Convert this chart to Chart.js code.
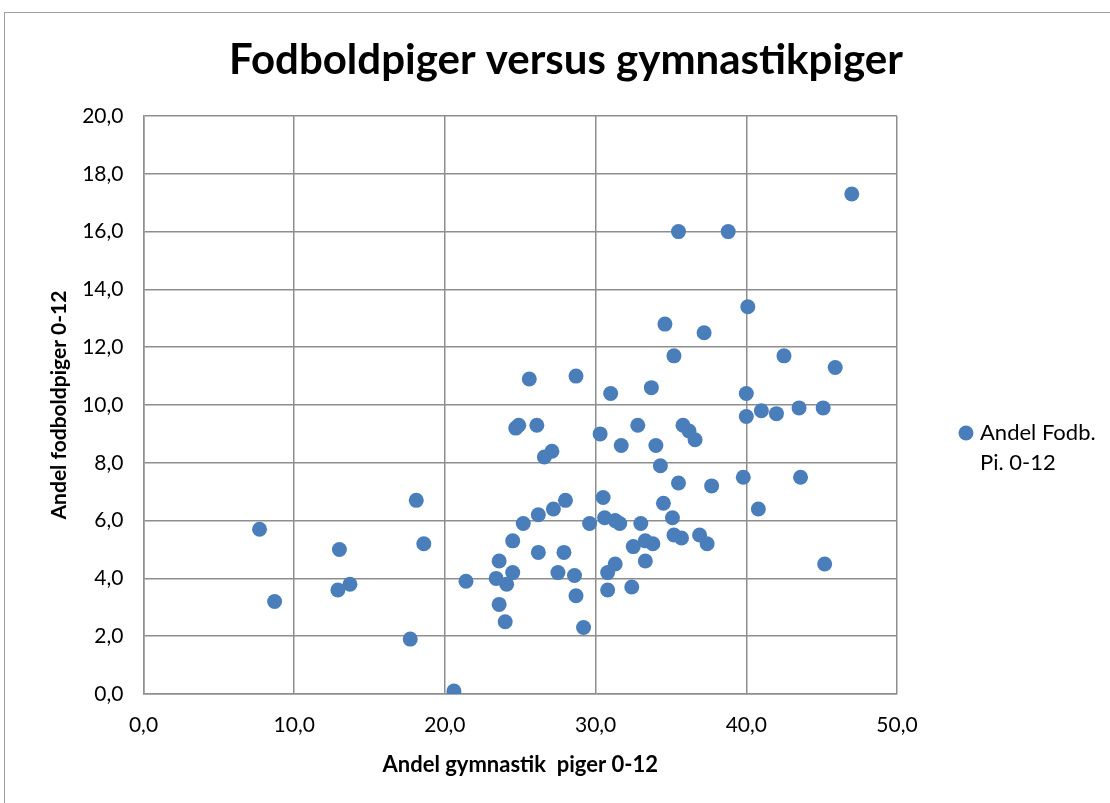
<!DOCTYPE html>
<html>
<head>
<meta charset="utf-8">
<script src="https://cdn.jsdelivr.net/npm/chart.js@4.4.1/dist/chart.umd.min.js"></script>
<style>
  html, body { margin: 0; padding: 0; background: #fff; }
  #wrap { position: relative; width: 1110px; height: 803px; }
</style>
</head>
<body>
<div id="wrap"><canvas id="scatterChart" width="1110" height="803"></canvas></div>
<script>
// Andel gymnastik piger 0-12 (x) og Andel fodboldpiger 0-12 (y)
var gymnastik = [47.0, 35.5, 38.8, 40.1, 34.6, 37.2, 35.2, 42.5, 45.9, 25.6,
                 28.7, 31.0, 33.7, 40.0, 40.0, 41.0, 42.0, 43.5, 45.1, 24.7,
                 24.9, 26.1, 32.8, 35.8, 36.2, 36.6, 30.3, 27.1, 26.6, 31.7,
                 34.0, 34.3, 35.5, 37.7, 39.8, 43.6, 18.1, 28.0, 30.5, 27.2,
                 34.5, 40.8, 26.2, 25.2, 30.6, 31.3, 31.6, 29.6, 33.0, 35.1,
                 7.7, 24.5, 35.2, 35.7, 36.9, 37.4, 33.3, 33.8, 32.5, 13.0,
                 18.6, 26.2, 27.9, 33.3, 23.6, 45.2, 31.3, 30.8, 24.5, 27.5,
                 28.6, 23.4, 21.4, 13.7, 12.9, 24.1, 32.4, 30.8, 28.7, 8.7,
                 23.6, 24.0, 29.2, 17.7, 20.6];
var fodbold = [17.3, 16.0, 16.0, 13.4, 12.8, 12.5, 11.7, 11.7, 11.3, 10.9,
               11.0, 10.4, 10.6, 10.4, 9.6, 9.8, 9.7, 9.9, 9.9, 9.2,
               9.3, 9.3, 9.3, 9.3, 9.1, 8.8, 9.0, 8.4, 8.2, 8.6,
               8.6, 7.9, 7.3, 7.2, 7.5, 7.5, 6.7, 6.7, 6.8, 6.4,
               6.6, 6.4, 6.2, 5.9, 6.1, 6.0, 5.9, 5.9, 5.9, 6.1,
               5.7, 5.3, 5.5, 5.4, 5.5, 5.2, 5.3, 5.2, 5.1, 5.0,
               5.2, 4.9, 4.9, 4.6, 4.6, 4.5, 4.5, 4.2, 4.2, 4.2,
               4.1, 4.0, 3.9, 3.8, 3.6, 3.8, 3.7, 3.6, 3.4, 3.2,
               3.1, 2.5, 2.3, 1.9, 0.1];
var xTicks = [0, 10, 20, 30, 40, 50];
var yTicks = [0, 2, 4, 6, 8, 10, 12, 14, 16, 18, 20];
var seriesName = ['Andel Fodb.', 'Pi. 0-12'];
var chartTitle = 'Fodboldpiger versus gymnastikpiger';

var points = gymnastik.map(function (g, i) { return { x: g, y: fodbold[i] }; });

function komma(v) { return Number(v).toFixed(1).replace('.', ','); }

var fontFam = 'Lato, "Open Sans", sans-serif';
var blue = '#4a7ebb';

// hvid baggrund + ramme om diagrammet
var frame = {
    id: 'frame',
    beforeDraw: function (chart) {
        var c = chart.ctx;
        c.save();
        c.fillStyle = '#fff';
        c.fillRect(0, 0, chart.width, chart.height);
        c.strokeStyle = '#a0a0a0';
        c.lineWidth = 1;
        c.strokeRect(4.5, 12.5, 1200, 900);
        c.restore();
    }
};

// titel centreret over hele diagrammet + forklaring til højre på to linjer
var extras = {
    id: 'extras',
    afterDraw: function (chart) {
        var c = chart.ctx;
        c.save();
        c.fillStyle = '#000';
        c.font = 'bold 42px ' + fontFam;
        c.textAlign = 'center';
        c.textBaseline = 'middle';
        c.fillText(chartTitle, 566, 60);

        c.fillStyle = blue;
        c.beginPath();
        c.arc(966, 433, 7.5, 0, Math.PI * 2);
        c.fill();
        c.fillStyle = '#000';
        c.font = '22px ' + fontFam;
        c.textAlign = 'left';
        c.fillText(seriesName[0], 980, 433);
        c.fillText(seriesName[1], 980, 463);
        c.restore();
    }
};

var ctx = document.getElementById('scatterChart').getContext('2d');
var scatterChart = new Chart(ctx, {
    type: 'scatter',
    data: {
        datasets: [{
            label: seriesName.join(' '),
            data: points,
            backgroundColor: blue,
            borderColor: blue,
            borderWidth: 0,
            pointRadius: 7.5,
            pointHoverRadius: 7.5
        }]
    },
    options: {
        responsive: false,
        animation: false,
        layout: { padding: { left: 0, right: 213, top: 116, bottom: 0 } },
        plugins: {
            legend: { display: false },
            tooltip: { enabled: false },
            title: { display: false }
        },
        scales: {
            x: {
                type: 'linear',
                min: xTicks[0],
                max: xTicks[xTicks.length - 1],
                afterBuildTicks: function (s) { s.ticks = xTicks.map(function (v) { return { value: v }; }); },
                afterFit: function (s) { s.height = 109; },
                grid: { color: '#8e8e8e', lineWidth: 1.5, drawTicks: false },
                border: { color: '#8e8e8e', width: 1.5 },
                ticks: {
                    padding: 19,
                    color: '#000',
                    font: { family: fontFam, size: 21 },
                    callback: komma
                },
                title: {
                    display: true,
                    text: 'Andel gymnastik  piger 0-12',
                    color: '#000',
                    font: { family: fontFam, size: 22, weight: 'bold' },
                    padding: { top: 0, bottom: 25 }
                }
            },
            y: {
                type: 'linear',
                min: yTicks[0],
                max: yTicks[yTicks.length - 1],
                afterBuildTicks: function (s) { s.ticks = yTicks.map(function (v) { return { value: v }; }); },
                afterFit: function (s) { s.width = 143.5; },
                grid: { color: '#8e8e8e', lineWidth: 1.5, drawTicks: false },
                border: { color: '#8e8e8e', width: 1.5 },
                ticks: {
                    padding: 20,
                    color: '#000',
                    font: { family: fontFam, size: 21 },
                    callback: komma
                },
                title: {
                    display: true,
                    text: 'Andel fodboldpiger 0-12',
                    color: '#000',
                    font: { family: fontFam, size: 21, weight: 'bold' },
                    padding: { top: 47, bottom: 0 }
                }
            }
        }
    },
    plugins: [frame, extras]
});
</script>
</body>
</html>
